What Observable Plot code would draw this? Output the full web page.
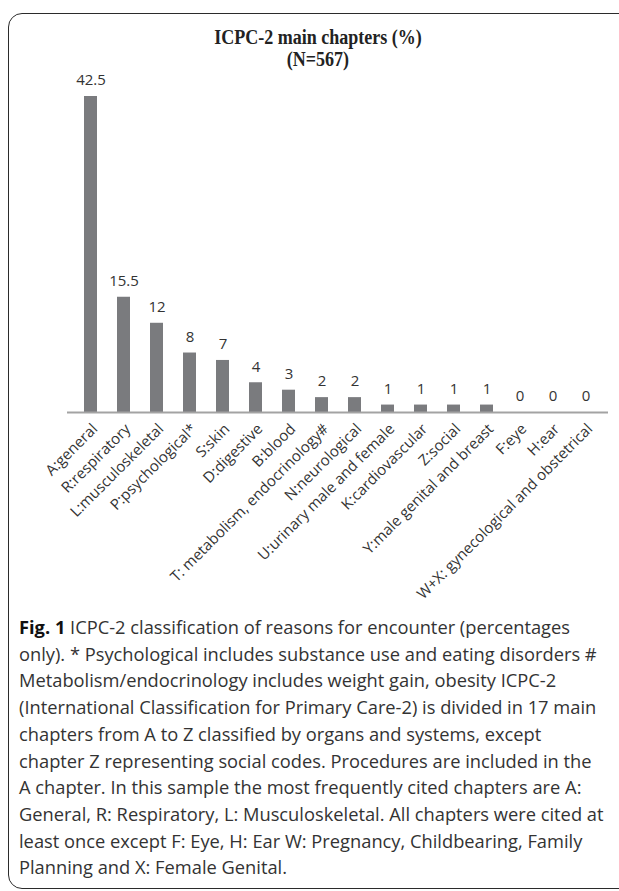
<!DOCTYPE html>
<html>
<head>
<meta charset="utf-8">
<script src="https://cdn.jsdelivr.net/npm/d3@7"></script>
<script src="https://cdn.jsdelivr.net/npm/@observablehq/plot@0.6"></script>
<style>
  html, body { margin: 0; padding: 0; background: #fff; }
  body { width: 619px; height: 891px; overflow: hidden; position: relative; }
  #frame { position: absolute; left: 8px; top: 13px; width: 700px; height: 876px;
           border: 1.5px solid #2b2b2b; border-radius: 14px; box-sizing: border-box; }
  #title { position: absolute; left: 118px; width: 400px; top: 26px; text-align: center;
           font-family: "Liberation Serif", "DejaVu Serif", serif; font-weight: bold;
           font-size: 20px; line-height: 22px; color: #222;
           transform: scaleX(0.9); transform-origin: 200px 0; }
  #chart { position: absolute; left: 0; top: 0; }
  #caption { position: absolute; left: 19px; top: 614px; width: 600px;
             font-family: "Open Sans", sans-serif; font-size: 18.3px; line-height: 26.7px;
             color: #333; white-space: nowrap; letter-spacing: 0px; }
  #caption b { color: #111; }
</style>
</head>
<body>
<div id="frame"></div>
<div id="chart"></div>
<div id="title">ICPC-2 main chapters (%)<br>(N=567)</div>
<div id="caption"><b>Fig. 1</b> ICPC-2 classification of reasons for encounter (percentages<br>only). * Psychological includes substance use and eating disorders #<br>Metabolism/endocrinology includes weight gain, obesity ICPC-2<br>(International Classification for Primary Care-2) is divided in 17 main<br>chapters from A to Z classified by organs and systems, except<br>chapter Z representing social codes. Procedures are included in the<br>A chapter. In this sample the most frequently cited chapters are A:<br>General, R: Respiratory, L: Musculoskeletal. All chapters were cited at<br>least once except F: Eye, H: Ear W: Pregnancy, Childbearing, Family<br>Planning and X: Female Genital.</div>
<script>
const chapters = ["A:general", "R:respiratory", "L:musculoskeletal", "P:psychological*", "S:skin",
  "D:digestive", "B:blood", "T: metabolism, endocrinology#", "N:neurological",
  "U:urinary male and female", "K:cardiovascular", "Z:social", "Y:male genital and breast",
  "F:eye", "H:ear", "W+X: gynecological and obstetrical"];
const percents = [42.5, 15.5, 12, 8, 7, 4, 3, 2, 2, 1, 1, 1, 1, 0, 0, 0];

const data = chapters.map((c, i) => ({chapter: c, value: percents[i]}));

const chart = Plot.plot({
  width: 619,
  height: 640,
  marginTop: 96,
  marginBottom: 228,
  marginLeft: 67,
  marginRight: 11,
  style: {fontFamily: "'Open Sans', sans-serif", background: "transparent", overflow: "visible"},
  x: {domain: chapters, paddingInner: 0.61, paddingOuter: 0.3},
  y: {domain: [0, 42.5], axis: null},
  marks: [
    Plot.barY(data, {x: "chapter", y: "value", fill: "#7a7b7e"}),
    Plot.ruleY([0], {stroke: "#a3a3a3", strokeWidth: 2}),
    Plot.text(data, {x: "chapter", y: "value", text: d => String(d.value), dy: -16,
      fontSize: 15, fill: "#333"}),
    Plot.axisX({tickSize: 0, tickRotate: -45, tickPadding: 14, dx: 4, fontSize: 15,
      fill: "#333", label: null})
  ]
});
document.getElementById("chart").appendChild(chart);
</script>
</body>
</html>
